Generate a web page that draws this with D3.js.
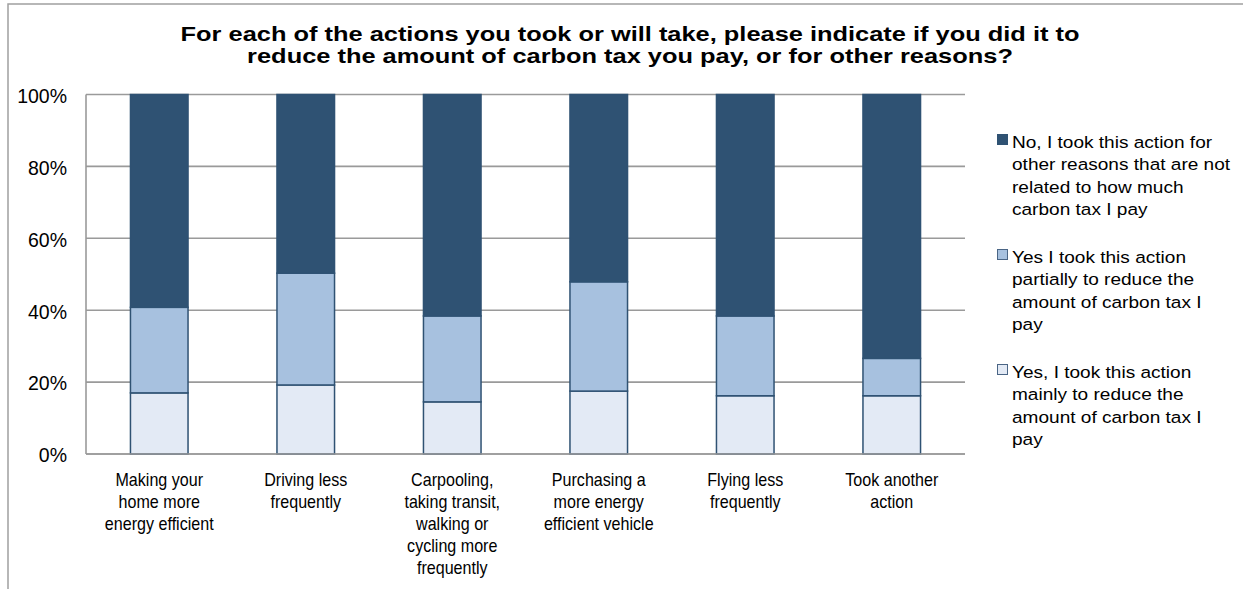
<!DOCTYPE html>
<html><head><meta charset="utf-8">
<script src="https://cdn.jsdelivr.net/npm/d3@7"></script>
<style>body{margin:0;background:#fff}svg{display:block}text{font-family:"Liberation Sans",Arial,sans-serif;fill:#000}</style>
</head><body>
<svg id="c" width="1243" height="589"></svg>
<script>
const categories = [
  ["Making your","home more","energy efficient"],
  ["Driving less","frequently"],
  ["Carpooling,","taking transit,","walking or","cycling more","frequently"],
  ["Purchasing a","more energy","efficient vehicle"],
  ["Flying less","frequently"],
  ["Took another","action"]
];
const mainly = [17, 19.2, 14.5, 17.5, 16.2, 16.2];
const partially = [23.8, 31.1, 23.9, 30.4, 22.2, 10.4];
const notRelated = [59.2, 49.7, 61.6, 52.1, 61.6, 73.4];
const seriesNames = ["Yes, I took this action mainly to reduce the amount of carbon tax I pay",
  "Yes I took this action partially to reduce the amount of carbon tax I pay",
  "No, I took this action for other reasons that are not related to how much carbon tax I pay"];
const legendLines = [
  ["No, I took this action for","other reasons that are not","related to how much","carbon tax I pay"],
  ["Yes I took this action","partially to reduce the","amount of carbon tax I","pay"],
  ["Yes, I took this action","mainly to reduce the","amount of carbon tax I","pay"]
];
const tickValues = [0, 20, 40, 60, 80, 100];
const titleLines = ["For each of the actions you took or will take, please indicate if you did it to",
  "reduce the amount of carbon tax you pay, or for other reasons?"];
const colors = ["#E3EAF5", "#A7C1DF", "#2F5273"];

const svg = d3.select("#c");
// outer frame
svg.append("rect").attr("x",8).attr("y",4).attr("width",1250).attr("height",600)
  .attr("fill","none").attr("stroke","#a0a0a0").attr("stroke-width",1.5);

const L=86, R=965, T=94.5, B=454;
const x = d3.scaleBand().domain(d3.range(categories.length)).range([L,R]).paddingInner(0.607).paddingOuter(0.3035);
const y = d3.scaleLinear().domain([0,100]).range([B,T]);

// title (stretched horizontally like the reference)
svg.append("text").attr("text-anchor","middle").attr("font-weight","bold").attr("font-size",21)
  .attr("transform","translate(630,0) scale(1.21,1)")
  .selectAll("tspan").data(titleLines).join("tspan")
  .attr("x",0).attr("y",(d,i)=>41.5+i*22).text(d=>d);

// gridlines
svg.append("g").selectAll("line").data(tickValues).join("line")
  .attr("x1",L).attr("x2",R).attr("y1",d=>y(d)).attr("y2",d=>y(d))
  .attr("stroke","#9a9a9a").attr("stroke-width",1.6);
svg.append("line").attr("x1",L).attr("x2",L).attr("y1",T).attr("y2",B)
  .attr("stroke","#9a9a9a").attr("stroke-width",1.6);

// y tick labels
const yAxis = d3.axisLeft(y).tickValues(tickValues).tickFormat(d=>d+"%").tickSize(0).tickPadding(19);
const ya = svg.append("g").attr("transform",`translate(${L},0)`).call(yAxis);
ya.select(".domain").remove();
ya.selectAll("text").attr("font-size",19.5).attr("font-family","Liberation Sans, Arial, sans-serif").attr("fill","#000").attr("dy","0.4em");

// stacked bars
const table = categories.map((c,i)=>({i, s0:mainly[i], s1:partially[i], s2:notRelated[i]}));
const stack = d3.stack().keys(["s0","s1","s2"])(table);
svg.append("g").selectAll("g").data(stack).join("g")
  .attr("fill",(d,k)=>colors[k])
  .selectAll("rect").data(d=>d).join("rect")
  .attr("x",d=>x(d.data.i)).attr("width",x.bandwidth())
  .attr("y",d=>y(d[1])).attr("height",d=>y(d[0])-y(d[1]))
  .attr("stroke","#2F5273").attr("stroke-width",1.5);

// bottom axis line on top
svg.append("line").attr("x1",L).attr("x2",R).attr("y1",B).attr("y2",B)
  .attr("stroke","#9a9a9a").attr("stroke-width",1.6);

// category labels (slightly condensed like the reference)
const cg = svg.append("g").selectAll("text").data(categories).join("text")
  .attr("text-anchor","middle").attr("font-size",17.5)
  .attr("transform",(d,i)=>`translate(${x(i)+x.bandwidth()/2},0) scale(0.92,1)`);
cg.selectAll("tspan").data(d=>d).join("tspan")
  .attr("x",0).attr("y",(d,j)=>486+j*22).text(d=>d);

// legend
const lg = svg.append("g").selectAll("g").data(legendLines).join("g")
  .attr("transform",(d,k)=>`translate(997,${148+k*115})`);
lg.append("rect").attr("x",0.5).attr("y",-13.5).attr("width",10).attr("height",10)
  .attr("fill",(d,k)=>colors[2-k]).attr("stroke",(d,k)=>k===0?"#2F5273":"#4a6585").attr("stroke-width",1);
lg.append("text").attr("font-size",16.5).attr("transform","translate(15,0) scale(1.155,1)")
  .selectAll("tspan").data(d=>d).join("tspan")
  .attr("x",0).attr("y",(d,j)=>j*22.5).text(d=>d);
</script>
</body></html>
